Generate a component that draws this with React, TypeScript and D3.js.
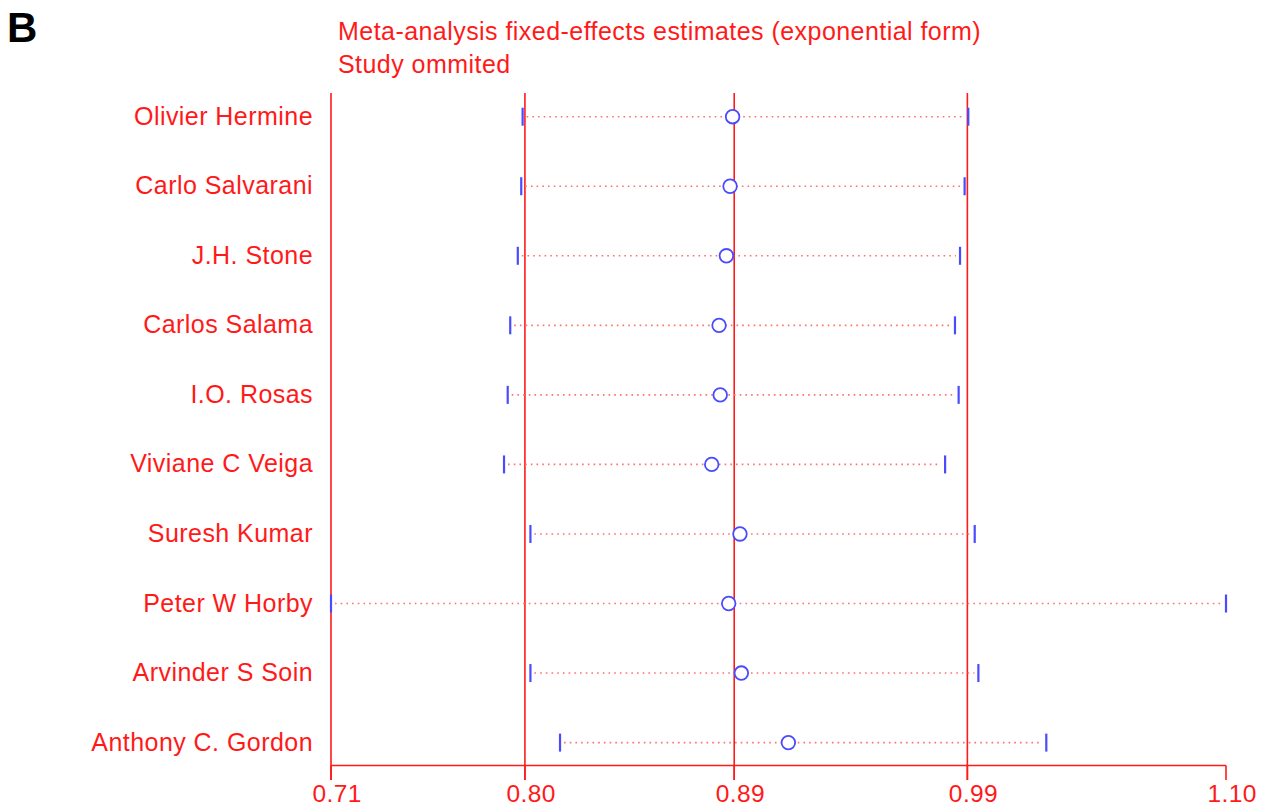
import React from "react";
import * as d3 from "d3";

const studies = [
  "Olivier Hermine",
  "Carlo Salvarani",
  "J.H. Stone",
  "Carlos Salama",
  "I.O. Rosas",
  "Viviane C Veiga",
  "Suresh Kumar",
  "Peter W Horby",
  "Arvinder S Soin",
  "Anthony C. Gordon",
];
const estimates = [0.889, 0.8879, 0.8863, 0.8831, 0.8836, 0.8799, 0.8922, 0.8873, 0.8928, 0.9133];
const lowerCI = [0.7975, 0.7969, 0.7954, 0.7921, 0.791, 0.7894, 0.8009, 0.714, 0.8009, 0.8138];
const upperCI = [0.9917, 0.9901, 0.9881, 0.9859, 0.9875, 0.9816, 0.9945, 1.104, 0.9961, 1.0257];
// overall fixed-effects: lower CI, estimate, upper CI
const refLines = [0.7985, 0.8897, 0.9913];
const tickValues = [0.714, 0.7985, 0.8897, 0.9913, 1.104];
const tickLabels = ["0.71", "0.80", "0.89", "0.99", "1.10"];
const titleLines = ["Meta-analysis fixed-effects estimates (exponential form)", "Study ommited"];

const W = 1271;
const H = 810;
const RED = "#ff1a1a";
const BLUE = "#4a4aff";
const FONT = "'Liberation Sans', Arial, sans-serif";

export default function App() {
  const x = d3.scaleLinear().domain([tickValues[0], tickValues[tickValues.length - 1]]).range([331, 1226]);
  const y = d3.scalePoint<string>().domain(studies).range([116.7, 742.6]);
  const axisY = 765.5;
  const top = 93;
  const tickEnd = 780;

  return (
    <svg
      width={W}
      height={H}
      style={{ position: "absolute", left: 0, top: 0, background: "#fff", display: "block" }}
      fontFamily={FONT}
    >
      <rect x={0} y={0} width={W} height={H} fill="#fff" />
      <text x={7} y={42} fontSize={42} fontWeight="bold" fill="#000">B</text>
      {titleLines.map((t, i) => (
        <text key={t} x={338} y={40 + i * 33} fontSize={25} letterSpacing={0.45} fill={RED}>{t}</text>
      ))}

      {/* left axis line */}
      <line x1={x(tickValues[0])} x2={x(tickValues[0])} y1={top} y2={tickEnd} stroke={RED} strokeWidth={1.6} />
      {/* reference lines */}
      {refLines.map((v) => (
        <line key={v} x1={x(v)} x2={x(v)} y1={top} y2={tickEnd} stroke={RED} strokeWidth={1.6} />
      ))}
      {/* bottom axis */}
      <line x1={x(tickValues[0])} x2={x(tickValues[tickValues.length - 1])} y1={axisY} y2={axisY} stroke={RED} strokeWidth={1.6} />
      {tickValues.map((v, i) => (
        <g key={i}>
          <line x1={x(v)} x2={x(v)} y1={axisY} y2={tickEnd} stroke={RED} strokeWidth={1.6} />
          <text x={x(v) - 18.5} y={802} fontSize={24.5} letterSpacing={0.4} fill={RED} textAnchor="start">{tickLabels[i]}</text>
        </g>
      ))}

      {studies.map((s, i) => {
        const yy = y(s) as number;
        return (
          <g key={s}>
            <text x={313} y={yy + 8} fontSize={25} letterSpacing={0.45} fill={RED} textAnchor="end">{s}</text>
            <line
              x1={x(lowerCI[i]) + 4}
              x2={x(upperCI[i]) - 4}
              y1={yy}
              y2={yy}
              stroke="#ff7070"
              strokeWidth={1.6}
              strokeDasharray="1.6,4.1"
            />
            <line x1={x(lowerCI[i])} x2={x(lowerCI[i])} y1={yy - 9} y2={yy + 9} stroke={BLUE} strokeWidth={2.2} />
            <line x1={x(upperCI[i])} x2={x(upperCI[i])} y1={yy - 9} y2={yy + 9} stroke={BLUE} strokeWidth={2.2} />
            <circle cx={x(estimates[i])} cy={yy} r={6.8} fill="#fff" stroke={BLUE} strokeWidth={1.8} />
          </g>
        );
      })}
    </svg>
  );
}
